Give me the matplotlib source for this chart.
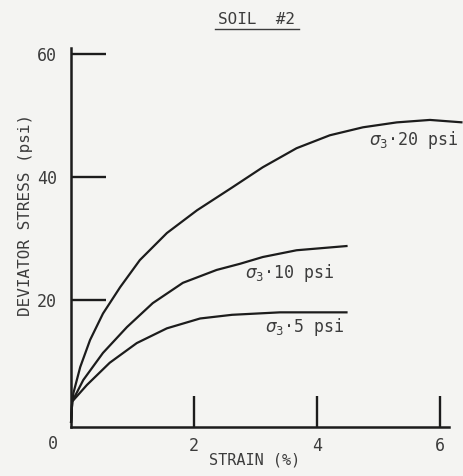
import matplotlib
matplotlib.use("Agg")
from matplotlib import pyplot as plt
from matplotlib.lines import Line2D

# values
strain_20 = [0, 0.02, 0.04, 0.15, 0.31, 0.52, 0.80, 1.12, 1.56, 2.05, 2.62, 3.12, 3.67, 4.21, 4.75, 5.30, 5.84, 6.37]
stress_20 = [0, 3.5, 4.9, 9.1, 13.5, 17.8, 22.1, 26.5, 30.9, 34.6, 38.3, 41.6, 44.7, 46.8, 48.1, 48.9, 49.3, 48.9]

strain_10 = [0, 0.02, 0.20, 0.52, 0.91, 1.33, 1.82, 2.37, 2.75, 3.12, 3.67, 4.5]
stress_10 = [0, 3.5, 7.0, 11.4, 15.6, 19.5, 22.8, 24.9, 25.9, 27.0, 28.1, 28.8]

strain_5 = [0, 0.02, 0.26, 0.63, 1.07, 1.56, 2.10, 2.62, 3.40, 4.5]
stress_5 = [0, 3.5, 6.2, 9.8, 13.0, 15.4, 17.0, 17.6, 18.0, 18.0]

curve_labels = [r"$\sigma_3$" + "\u00b720 psi", r"$\sigma_3$" + "\u00b710 psi", r"$\sigma_3$" + "\u00b75 psi"]
x_ticks = [2, 4, 6]
y_ticks = [20, 40, 60]

ink = "#1c1c1c"
grey = "#3c3c3c"
plt.rcParams["font.family"] = "DejaVu Sans Mono"
plt.rcParams["mathtext.fontset"] = "dejavusans"

fig = plt.figure(figsize=(4.64, 4.76), dpi=100, facecolor="#f4f4f2")
ax = fig.add_axes([71 / 464, 49 / 476, 378 / 464, 379 / 476])
ax.set_facecolor("none")

for xs, ys in [(strain_20, stress_20), (strain_10, stress_10), (strain_5, stress_5)]:
    ax.plot(xs, ys, color=ink, lw=1.6, clip_on=False, solid_capstyle="butt",
            solid_joinstyle="round")

ax.set_xlim(0, 6.15)
ax.set_ylim(-0.65, 61.0)

for side in ["top", "right"]:
    ax.spines[side].set_visible(False)
for side in ["left", "bottom"]:
    ax.spines[side].set_linewidth(1.8)
    ax.spines[side].set_color(ink)

ax.set_xticks(x_ticks)
ax.set_yticks(y_ticks)
ax.tick_params(axis="x", direction="in", length=22, width=1.7, color=ink, pad=7,
               labelsize=12, labelcolor=grey)
ax.tick_params(axis="y", direction="in", length=25, width=1.7, color=ink, pad=10,
               labelsize=12, labelcolor=grey)
ax.text(-0.29, -3.4, "0", ha="center", va="center", fontsize=12, color=grey, clip_on=False)

ax.text(4.85, 45.3, curve_labels[0], fontsize=12, color=grey, ha="left", va="baseline")
ax.text(2.83, 23.6, curve_labels[1], fontsize=12, color=grey, ha="left", va="baseline")
ax.text(3.15, 14.8, curve_labels[2], fontsize=12, color=grey, ha="left", va="baseline")

fig.text(26 / 464, 1 - 215 / 476, "DEVIATOR STRESS (psi)", rotation=90, ha="center",
         va="center", fontsize=11.5, color=grey)
fig.text(255 / 464, 1 - 460 / 476, "STRAIN (%)", ha="center", va="center",
         fontsize=11, color=grey)
fig.text(257 / 464, 1 - 20 / 476, "SOIL  #2", ha="center", va="center",
         fontsize=11.5, color=grey)
fig.add_artist(Line2D([215 / 464, 299 / 464], [1 - 29 / 476, 1 - 29 / 476],
                      transform=fig.transFigure, color=grey, lw=1.0))

fig.savefig("out.png", dpi=100, facecolor=fig.get_facecolor())
